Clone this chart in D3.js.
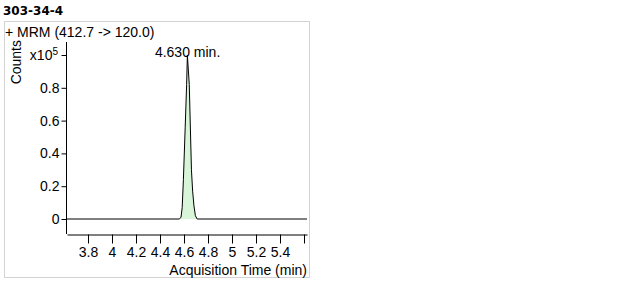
<!DOCTYPE html>
<html>
<head>
<meta charset="utf-8">
<script src="https://cdn.jsdelivr.net/npm/d3@7"></script>
<style>
  body { margin: 0; background: #fff; }
  text { font-family: "Liberation Sans", Arial, sans-serif; }
</style>
</head>
<body>
<script>
// chromatogram (counts in units of 1e5)
var times  = [3.625, 4.56, 4.575, 4.585, 4.595, 4.61, 4.622, 4.628, 4.644, 4.655, 4.662, 4.672, 4.683, 4.695, 4.71, 5.625];
var counts = [0,     0,    0.01,  0.07,  0.24,  0.56, 0.82,  1.0,   0.82,  0.5,   0.3,   0.17,  0.08,  0.02,  0,    0];
var xTicks = [3.8, 4, 4.2, 4.4, 4.6, 4.8, 5, 5.2, 5.4, 5.6];
var xTickLabels = ["3.8", "4", "4.2", "4.4", "4.6", "4.8", "5", "5.2", "5.4", ""];
var yTicks = [0, 0.2, 0.4, 0.6, 0.8];
var yTickLabels = ["0", "0.2", "0.4", "0.6", "0.8"];
var title = "303-34-4";
var traceLabel = "+ MRM (412.7 -> 120.0)";
var peakTime = 4.630;

var width = 626, height = 284;
var svg = d3.select("body").append("svg")
  .attr("width", width)
  .attr("height", height);

var lijst = times.map(function(t, i) { return {t: t, v: counts[i]}; });

var x = d3.scaleLinear().domain([3.625, 5.625]).range([67, 307]);
var y = d3.scaleLinear().domain([0, 1]).range([219, 55]);

// frame
svg.append("rect")
  .attr("x", 4.5).attr("y", 21.5)
  .attr("width", 305).attr("height", 256)
  .attr("fill", "none")
  .attr("stroke", "#d3d3d3");

svg.append("text")
  .attr("x", 3).attr("y", 15)
  .attr("font-size", 12).attr("font-weight", "bold")
  .style("font-family", "'DejaVu Sans', sans-serif")
  .text(title);

svg.append("text")
  .attr("x", 5).attr("y", 37)
  .attr("font-size", 14)
  .text(traceLabel);

// peak fill
var peak = lijst.filter(function(d) { return d.t >= 4.56 && d.t <= 4.71; });
svg.append("path")
  .datum(peak)
  .attr("fill", "#d9f5d9")
  .attr("d", d3.area()
    .x(function(d) { return x(d.t); })
    .y0(y(0))
    .y1(function(d) { return y(d.v); }));

svg.append("path")
  .datum(lijst)
  .attr("fill", "none")
  .attr("stroke", "#000")
  .attr("stroke-width", 1)
  .attr("stroke-linejoin", "round")
  .attr("d", d3.line()
    .x(function(d) { return x(d.t); })
    .y(function(d) { return y(d.v); }));

// y axis
var yAxis = svg.append("g")
  .attr("transform", "translate(66.5,0)")
  .call(d3.axisLeft(y).tickValues(yTicks.concat([1]))
    .tickFormat(function(d, i) { return i < yTickLabels.length ? yTickLabels[i] : ""; })
    .tickSize(5).tickPadding(2).tickSizeOuter(0));
yAxis.select(".domain").remove();
yAxis.append("line")
  .attr("x1", 0).attr("x2", 0)
  .attr("y1", 42).attr("y2", 234)
  .attr("stroke", "#000");
yAxis.selectAll("text").attr("font-size", 14).attr("font-family", null).attr("fill", "#000");

var expo = svg.append("text")
  .attr("x", 58).attr("y", y(1) + 5)
  .attr("text-anchor", "end")
  .attr("font-size", 14);
expo.append("tspan").text("x10");
expo.append("tspan").attr("dy", -5).attr("font-size", 10).text("5");

svg.append("text")
  .attr("transform", "translate(21,40) rotate(-90)")
  .attr("text-anchor", "end")
  .attr("font-size", 14)
  .text("Counts");

// x axis
var xAxis = svg.append("g")
  .attr("transform", "translate(0,234.5)")
  .call(d3.axisBottom(x).tickValues(xTicks)
    .tickFormat(function(d, i) { return xTickLabels[i]; })
    .tickSize(9).tickPadding(4).tickSizeOuter(0));
xAxis.select(".domain").attr("stroke", "#000");
xAxis.selectAll("text").attr("font-size", 14).attr("font-family", null).attr("fill", "#000");

svg.append("text")
  .attr("x", 307).attr("y", 275)
  .attr("text-anchor", "end")
  .attr("font-size", 14)
  .text("Acquisition Time (min)");

svg.append("text")
  .attr("x", x(peakTime)).attr("y", y(1) + 2)
  .attr("text-anchor", "middle")
  .attr("font-size", 14)
  .text(peakTime.toFixed(3) + " min.");
</script>
</body>
</html>
